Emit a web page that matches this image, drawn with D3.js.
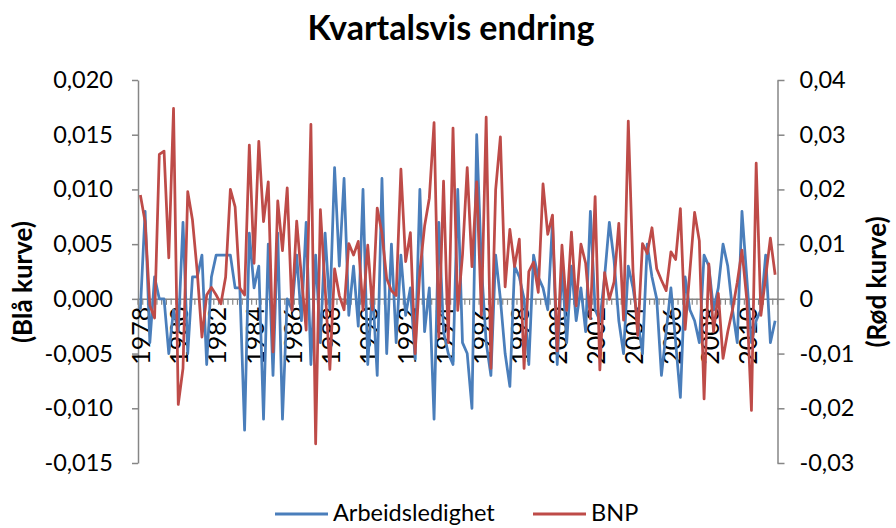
<!DOCTYPE html>
<html><head><meta charset="utf-8">
<script src="https://cdn.jsdelivr.net/npm/d3@7"></script>
<style>
body{margin:0;background:#fff}
text{font-family:Lato,'Open Sans',sans-serif;fill:#000}
</style>
</head><body>
<svg id="chart" width="896" height="528"></svg>
<script>
// ---- data ----
const title = "Kvartalsvis endring";
const leftTitle = "(Blå kurve)";
const rightTitle = "(Rød kurve)";
const seriesNames = ["Arbeidsledighet", "BNP"];
// quarterly categories 1978K1 .. 2011K3
const quarters = [];
for (let y = 1978; y <= 2011; y++) for (let q = 1; q <= 4; q++) if (quarters.length < 135) quarters.push(y + "K" + q);
const yearLabels = ["1978","1980","1982","1984","1986","1988","1990","1992","1994","1996","1998","2000","2002","2004","2006","2008","2010"];
const leftTicks = [-0.015,-0.010,-0.005,0,0.005,0.010,0.015,0.020];
const rightTicks = [-0.03,-0.02,-0.01,0,0.01,0.02,0.03,0.04];

const arbeidsledighet = [
 -0.001, 0.008,-0.004, 0.002, 0.000, 0.000,-0.005,-0.001,-0.003, 0.007,
 -0.005, 0.002, 0.002, 0.004,-0.006, 0.002, 0.004, 0.004, 0.004, 0.004,
  0.001, 0.001,-0.012, 0.006, 0.001, 0.003,-0.011, 0.005,-0.007, 0.006,
 -0.011, 0.000,-0.001, 0.004,-0.002, 0.007,-0.006, 0.004,-0.004, 0.006,
 -0.001, 0.012, 0.003, 0.011,-0.0015,0.003,-0.0025,0.010,-0.006, 0.001,
 -0.007, 0.011,-0.005, 0.005,-0.004, 0.004,-0.0015,0.001,-0.0055,0.010,
 -0.003, 0.001,-0.011, 0.007,-0.003,-0.005,-0.006, 0.010,-0.004,-0.005,
 -0.010, 0.015, 0.003,-0.004,-0.007, 0.004, 0.000,-0.005,-0.008, 0.003,
  0.002, 0.000,-0.006, 0.004, 0.002, 0.001,-0.001, 0.007,-0.006, 0.003,
 -0.004, 0.003,-0.002, 0.001,-0.003, 0.008,-0.001,-0.002, 0.002, 0.007,
  0.0035,-0.002,-0.005,0.003, 0.001,-0.002,-0.005, 0.005, 0.002, 0.000,
 -0.007,-0.003, 0.001,-0.004,-0.009, 0.002,-0.001,-0.002,-0.004, 0.004,
  0.003,-0.001, 0.001, 0.005, 0.003,-0.001,-0.004, 0.008, 0.002,-0.004,
 -0.002,-0.001, 0.004,-0.004,-0.002
];
const bnp = [
  0.0190, 0.0141,-0.0012,-0.0035, 0.0264, 0.0270, 0.0075, 0.0348,-0.0193,-0.0127,
  0.0196, 0.0144, 0.0050,-0.0070, 0.0007, 0.0021, 0.0007,-0.0009, 0.0040, 0.0200,
  0.0168, 0.0020, 0.0007, 0.0281, 0.0065, 0.0288, 0.0141, 0.0214,-0.0097, 0.0179,
  0.0088, 0.0203,-0.0021, 0.0142, 0.0040,-0.0057, 0.0319,-0.0265, 0.0163, 0.0020,
 -0.0129, 0.0055, 0.0006,-0.0020, 0.0101, 0.0080, 0.0105,-0.0021, 0.0098,-0.0020,
  0.0166, 0.0120, 0.0037, 0.0015, 0.0006, 0.0237, 0.0068, 0.0121,-0.0100, 0.0050,
  0.0133, 0.0184, 0.0322,-0.0070, 0.0215,-0.0080, 0.0312,-0.0021, 0.0080, 0.0240,
  0.0059, 0.0214,-0.0030, 0.0332,-0.0127, 0.0199, 0.0296, 0.0022, 0.0127, 0.0059,
  0.0109,-0.0127, 0.0050, 0.0067, 0.0012, 0.0210, 0.0118, 0.0153,-0.0095, 0.0098,
 -0.0021, 0.0122,-0.0013, 0.0100, 0.0065,-0.0036, 0.0187,-0.0130, 0.0048,-0.0001,
  0.0031, 0.0138,-0.0039, 0.0325, 0.0050,-0.0067, 0.0101, 0.0083, 0.0130, 0.0055,
  0.0034, 0.0015, 0.0086, 0.0072, 0.0165,-0.0056, 0.0050, 0.0158, 0.0106,-0.0183,
  0.0064,-0.0060, 0.0010,-0.0109,-0.0060,-0.0020, 0.0030, 0.0089, 0.0000,-0.0204,
  0.0248,-0.0030, 0.0040, 0.0111, 0.0044
];

// ---- chart ----
const blue = "#4A7EBB", red = "#BE4B48", axisCol = "#868686";
const svg = d3.select("#chart");
const plot = {left: 138, right: 777.5, top: 80, bottom: 463};

const loc = d3.formatLocale({decimal: ",", thousands: " ", grouping: [3], currency: ["", ""], minus: "-"});
const fmtL = loc.format(".3f"), fmtR = loc.format(".2f");

const x = d3.scaleBand().domain(quarters).range([plot.left, plot.right]).padding(0);
const yL = d3.scaleLinear().domain([-0.015, 0.020]).range([plot.bottom, plot.top]);
const yR = d3.scaleLinear().domain([-0.03, 0.04]).range([plot.bottom, plot.top]);

// title
svg.append("text").attr("x", 451).attr("y", 40).attr("text-anchor", "middle")
  .style("font-size", "34px").style("font-weight", "bold").text(title);

// left axis
const gL = svg.append("g").attr("transform", `translate(${plot.left},0)`)
  .call(d3.axisLeft(yL).tickValues(leftTicks).tickFormat(fmtL).tickSize(6).tickSizeOuter(0).tickPadding(19));
// right axis
const gR = svg.append("g").attr("transform", `translate(${plot.right},0)`)
  .call(d3.axisRight(yR).tickValues(rightTicks).tickFormat(d => d === 0 ? "0" : fmtR(d)).tickSize(7).tickSizeOuter(0).tickPadding(15));
[gL, gR].forEach(g => {
  g.select(".domain").attr("stroke", axisCol).attr("stroke-width", 1.5);
  g.selectAll(".tick line").attr("stroke", axisCol).attr("stroke-width", 1.5);
  g.selectAll(".tick text").style("font-size", "23.5px").attr("fill", "#000");
});

// x axis at zero
const y0 = yL(0);
const gX = svg.append("g").attr("transform", `translate(0,${y0})`)
  .call(d3.axisBottom(x).tickValues(quarters.filter((q, i) => i % 8 === 0)).tickFormat(q => q.slice(0, 4)).tickSize(0).tickSizeOuter(0));
gX.select(".domain").attr("stroke", axisCol).attr("stroke-width", 1.5);
gX.selectAll(".tick text")
  .attr("transform", "rotate(-90)")
  .attr("text-anchor", "end")
  .attr("x", -8).attr("y", 0).attr("dy", "0.4em")
  .style("font-size", "25px").attr("fill", "#000");
// minor tick marks at category boundaries
const bounds = quarters.map(q => x(q)).concat([x(quarters[quarters.length - 1]) + x.bandwidth()]);
svg.append("g").selectAll("line").data(bounds).join("line")
  .attr("x1", d => d).attr("x2", d => d).attr("y1", y0).attr("y2", y0 + 6)
  .attr("stroke", axisCol).attr("stroke-width", 1.2);

// axis titles
svg.append("text").attr("transform", "translate(32,282) rotate(-90)").attr("text-anchor", "middle")
  .style("font-size", "26px").style("font-weight", "bold").text(leftTitle);
svg.append("text").attr("transform", "translate(886,282) rotate(-90)").attr("text-anchor", "middle")
  .style("font-size", "26px").style("font-weight", "bold").text(rightTitle);

// lines
const cx = (d, i) => x(quarters[i]) + x.bandwidth() / 2;
svg.append("path").datum(arbeidsledighet)
  .attr("d", d3.line().x(cx).y(d => yL(d)))
  .attr("fill", "none").attr("stroke", blue).attr("stroke-width", 2.75).attr("stroke-linejoin", "round");
svg.append("path").datum(bnp)
  .attr("d", d3.line().x(cx).y(d => yR(d)))
  .attr("fill", "none").attr("stroke", red).attr("stroke-width", 2.75).attr("stroke-linejoin", "round");

// legend
const legend = [{name: seriesNames[0], color: blue, x: 275}, {name: seriesNames[1], color: red, x: 533}];
const lg = svg.append("g").selectAll("g").data(legend).join("g").attr("transform", d => `translate(${d.x},514)`);
lg.append("line").attr("x1", 0).attr("x2", 53).attr("y1", 0).attr("y2", 0).attr("stroke", d => d.color).attr("stroke-width", 3);
lg.append("text").attr("x", 58).attr("y", 7).style("font-size", "23.5px").text(d => d.name);
</script>
</body></html>
